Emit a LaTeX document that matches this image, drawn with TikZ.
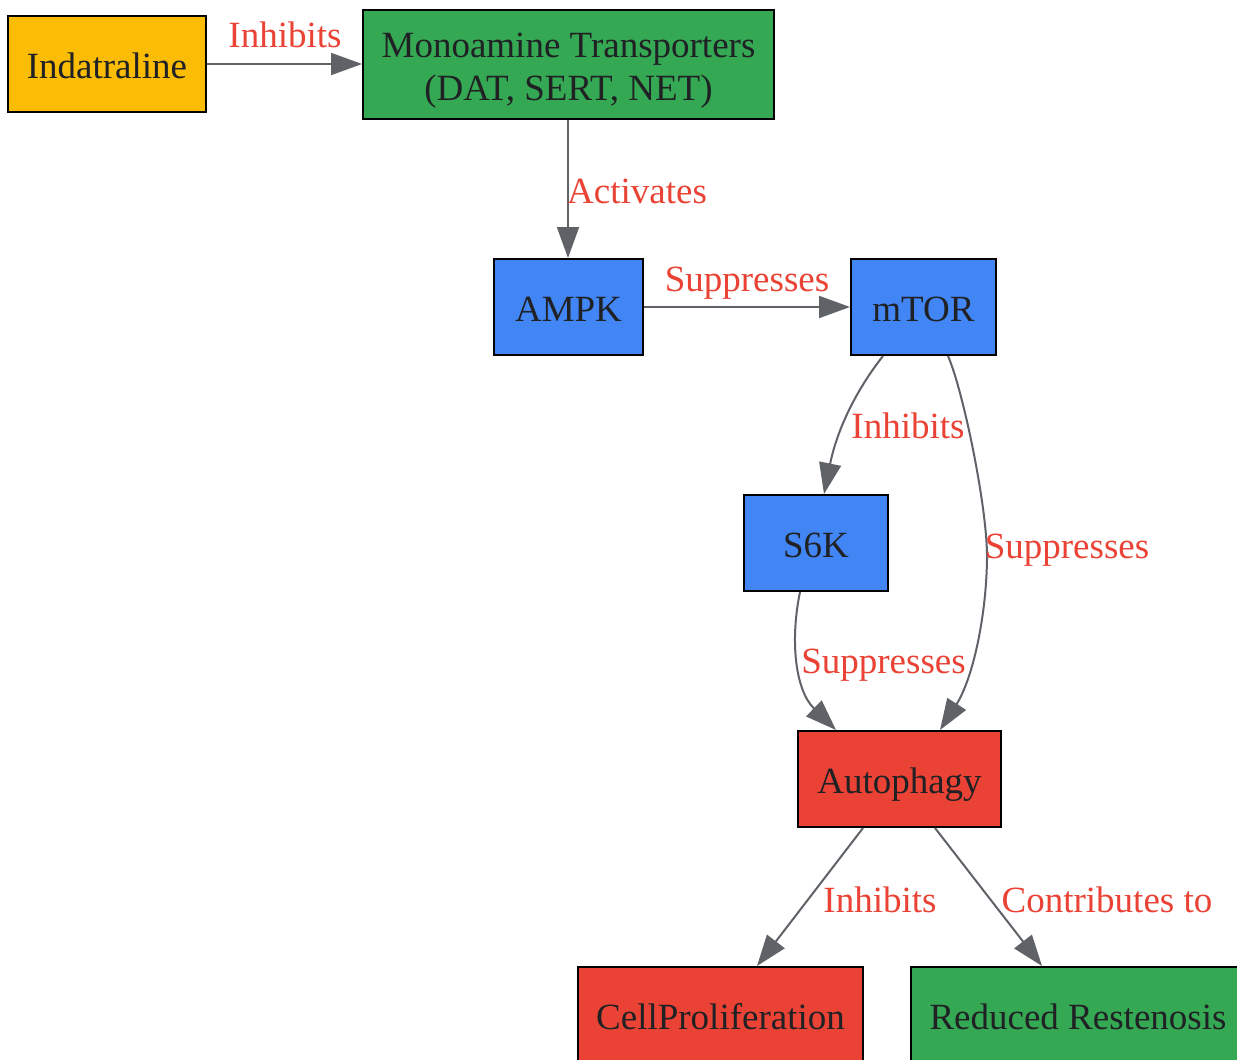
\documentclass[tikz,border=0pt]{standalone}
\usepackage{fontspec}
\setmainfont{Liberation Serif}
\usetikzlibrary{arrows.meta,calc}
\definecolor{cyellow}{HTML}{FBBC05}
\definecolor{cgreen}{HTML}{34A853}
\definecolor{cblue}{HTML}{4285F4}
\definecolor{cred}{HTML}{EA4335}
\definecolor{ctext}{HTML}{202124}
\definecolor{cedge}{HTML}{5F6368}
\begin{document}
\begin{tikzpicture}[x=1pt,y=-1pt,
  box/.style={draw=black,line width=2pt,rectangle,inner sep=0pt,text=ctext,
    font=\fontsize{37}{43}\selectfont,text height=28pt,text depth=0pt},
  lbl/.style={anchor=base,inner sep=0pt,text=cred,font=\fontsize{37}{43}\selectfont},
  edge/.style={draw=cedge,line width=2pt,-{Triangle[length=31pt,width=22pt]}}]
\useasboundingbox (0,0) rectangle (1237,1060);
\clip (0,0) rectangle (1237,1060);
\fill[white] (0,0) rectangle (1237,1060);
% nodes
\node[box,fill=cyellow,minimum width=198pt,minimum height=96pt] (ind) at (107,64) {Indatraline};
\node[box,fill=cgreen,minimum width=411pt,minimum height=109pt,text height=28pt,text depth=43pt] (mono) at (568.5,64.5)
  {\begin{tabular}[t]{@{}c@{}}Monoamine Transporters\\(DAT, SERT, NET)\end{tabular}};
\node[box,fill=cblue,minimum width=149pt,minimum height=96pt] (ampk) at (568.5,307) {AMPK};
\node[box,fill=cblue,minimum width=145pt,minimum height=96pt] (mtor) at (923.5,307) {mTOR};
\node[box,fill=cblue,minimum width=144pt,minimum height=96pt] (s6k) at (816,543) {S6K};
\node[box,fill=cred,minimum width=203pt,minimum height=96pt] (auto) at (899.5,779) {Autophagy};
\node[box,fill=cred,minimum width=285pt,minimum height=96pt] (cell) at (720.5,1015) {CellProliferation};
\node[box,fill=cgreen,minimum width=334pt,minimum height=96pt] (red) at (1078,1015) {Reduced Restenosis};
% edges
\draw[edge] (ind.east) -- (mono.west |- ind.east);
\draw[edge] ([xshift=-0.5pt]mono.south) -- ([xshift=-0.5pt]ampk.north);
\draw[edge] (ampk.east) -- (mtor.west);
\draw[edge] ([xshift=-40.5pt]mtor.south) .. controls (860,385) and (838,425) .. ([xshift=8pt]s6k.north);
\draw[edge] ([xshift=24.5pt]mtor.south) .. controls (963,390) and (988,510) .. (987,560)
   .. controls (986,620) and (972,680) .. ([xshift=40.5pt]auto.north);
\draw[edge] ([xshift=-16pt]s6k.south) .. controls (790,640) and (795,690) .. ([xshift=-63.5pt]auto.north);
\draw[edge] ([xshift=-36.5pt]auto.south) -- ([xshift=36.5pt]cell.north);
\draw[edge] ([xshift=35.5pt]auto.south) -- ([xshift=-36pt]red.north);
% labels
\node[lbl] (l1) at (285,47) {Inhibits};
\node[lbl] (l2) at (637,203) {Activates};
\node[lbl] (l3) at (747,291) {Suppresses};
\node[lbl] (l4) at (908,438) {Inhibits};
\node[lbl] (l5) at (1067,558) {Suppresses};
\node[lbl] (l6) at (883.5,673) {Suppresses};
\node[lbl] (l7) at (880,912) {Inhibits};
\node[lbl] (l8) at (1107,912) {Contributes to};
\end{tikzpicture}
\end{document}
